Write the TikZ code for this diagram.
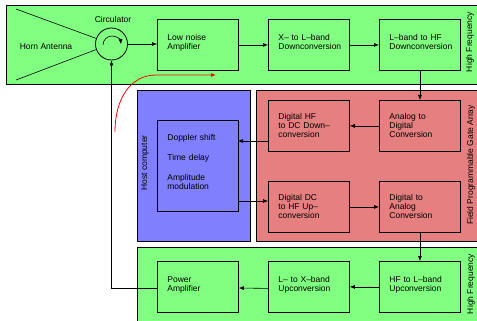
\documentclass[tikz,border=0pt]{standalone}
\usepackage{fontspec}
\setmainfont{Liberation Sans}
\usepackage{tikz}
\usetikzlibrary{arrows.meta}
\definecolor{hfgreen}{RGB}{128,255,128}
\definecolor{hostblue}{RGB}{128,128,255}
\definecolor{fpgared}{RGB}{230,128,128}
\tikzset{
  band/.style={draw,thick,inner sep=0pt,anchor=north west},
  blk/.style={draw,thick,minimum width=81pt,minimum height=51pt,text width=61pt,inner sep=0pt,align=left,font=\fontsize{8.5}{9}\selectfont,anchor=north west},
  txt/.style={font=\fontsize{8.5}{9}\selectfont,inner sep=0pt},
  sidetxt/.style={txt,rotate=90},
  sig/.style={-{Latex[length=5pt,width=4pt]},semithick}
}
\begin{document}
\begin{tikzpicture}[x=1pt,y=-1pt]
\useasboundingbox (0,0) rectangle (477,321);
% bands
\path[clip] (0,0) rectangle (477,321);
\node[band,fill=hfgreen,minimum width=480pt,minimum height=79pt] (topband) at (6,5) {};
\node[band,fill=hostblue,minimum width=113pt,minimum height=151pt] (hostband) at (137,90) {};
\node[band,fill=fpgared,minimum width=230pt,minimum height=151pt] (fpgaband) at (256,90) {};
\node[band,fill=hfgreen,minimum width=350pt,minimum height=85pt] (botband) at (137,247) {};
\node[sidetxt] (toplabel) at (470,42) {High Frequency};
\node[sidetxt] (fpgalabel) at (471,165) {Field Programmable Gate Array};
\node[sidetxt] (botlabel) at (471,284) {High Frequency};
\node[sidetxt] (hostlabel) at (145,163) {Host computer};
% antenna
\node[txt] (horn) at (46,47) {Horn Antenna};
\node[txt] (circlabel) at (113,19) {Circulator};
\node[draw,thick,circle,minimum size=32pt,inner sep=0pt] (circ) at (111.5,44) {};
\coordinate (hornup) at (16,9);
\coordinate (horndown) at (16,80);
\draw[semithick] (hornup) -- (circ.160);
\draw[semithick] (horndown) -- (circ.200);
\draw[semithick,-{Latex[length=5pt,width=4pt]}] (103,45) arc[start angle=180,end angle=5,radius=9pt];
% receive chain
\node[blk] (lna) at (157,19) {Low noise\\Amplifier\\[-3pt]~};
\node[blk] (xtol) at (268,19) {X-- to L--band\\Downconversion\\[-3pt]~};
\node[blk] (ltohf) at (379,19) {L--band to HF\\Downconversion\\[-3pt]~};
\node[blk] (adc) at (379,100) {Analog to\\Digital\\Conversion};
\node[blk] (hftodc) at (268,100) {Digital HF\\to DC Down--\\conversion};
% host
\node[draw,thick,minimum width=81pt,minimum height=91pt,text width=61pt,inner sep=0pt,align=left,anchor=north west,font=\fontsize{8.5}{9}\selectfont] (host) at (157,120) {Doppler shift\\[11pt]Time delay\\[11pt]Amplitude\\modulation\\[-2pt]~};
% transmit chain
\node[blk] (dctohf) at (268,181) {Digital DC\\to HF Up--\\conversion};
\node[blk] (dac) at (379,181) {Digital to\\Analog\\Conversion};
\node[blk] (hftol) at (379,261) {HF to L--band\\Upconversion\\[-3pt]~};
\node[blk] (ltox) at (268,261) {L-- to X--band\\Upconversion\\[-3pt]~};
\node[blk] (pa) at (157,261) {Power\\Amplifier\\[-3pt]~};
% connectors
\coordinate (hostin) at (238,141);
\coordinate (hostout) at (238,201);
\draw[sig] (circ.east) -- (circ.east -| lna.west);
\draw[sig] (lna) -- (xtol);
\draw[sig] (xtol) -- (ltohf);
\draw[sig] (ltohf) -- (adc);
\draw[sig] (adc) -- (hftodc);
\draw[sig] (hftodc.west |- hostin) -- (hostin);
\draw[sig] (hostout) -- (dctohf.west |- hostout);
\draw[sig] (dctohf) -- (dac);
\draw[sig] (dac) -- (hftol);
\draw[sig] (hftol) -- (ltox);
\draw[sig] (ltox.west) ++(0,1.5) -- (pa.east |- 0,288);
\draw[sig] (pa.west |- 0,288) -| (circ.south);
% red path
\coordinate (redstart) at (115,132);
\coordinate (redend) at (216,75);
\draw[red,thick,-{Latex[length=5pt,width=4pt]}] (redstart) .. controls (115,98) and (131,75) .. (156,75) -- (redend);
\end{tikzpicture}
\end{document}
